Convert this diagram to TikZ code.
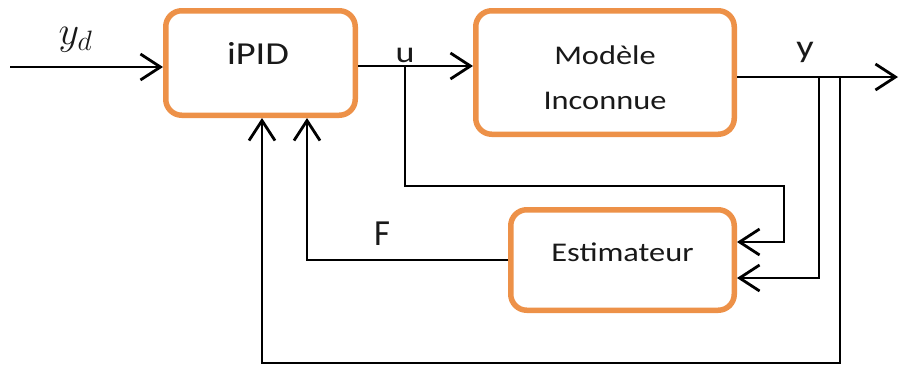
\documentclass[tikz,border=0pt]{standalone}
\usepackage{fix-cm}
\usepackage{fontspec}
\setmainfont{Carlito}[FakeStretch=1.2]
\usepackage{graphicx}
\usetikzlibrary{arrows.meta}
\definecolor{boxorange}{RGB}{237,145,72}

\begin{document}
\begin{tikzpicture}[x=1pt,y=-1pt,
  block/.style={draw=boxorange,line width=5.5pt,rounded corners=16pt,fill=white},
  wire/.style={line width=2.8pt},
  arr/.style={wire,-{Straight Barb[length=20pt,width=26pt]}},
  txt/.style={inner sep=0pt,text=black!90,font=\fontsize{27}{45}\selectfont}]
  \useasboundingbox (0,0) rectangle (901,365);
  % blocks
  \node[block,minimum width=189.5pt,minimum height=104.5pt] (ipid) at (260.5,63) {};
  \node[block,minimum width=258.5pt,minimum height=123.5pt] (modele) at (605,72.5) {};
  \node[block,minimum width=223.5pt,minimum height=100.5pt] (estim) at (622.5,260) {};
  \node[txt,font=\fontsize{32}{36}\selectfont] (ipidtxt) at (258,53) {iPID};
  \node[txt,align=center] (modtxt) at (605,78) {Modèle\\Inconnue};
  \node[txt] (esttxt) at (622.5,252) {Estimateur};
  % signal labels
  \node[txt,font=\fontsize{40}{44}\selectfont] (yd) at (75.5,40) {$y_d$};
  \node[txt,font=\fontsize{30}{36}\selectfont] (ulbl) at (405,55) {u};
  \node[txt,font=\fontsize{32}{36}\selectfont] (ylbl) at (805,52) {y};
  \node[txt,font=\fontsize{32}{36}\selectfont] (flbl) at (382,234) {\scalebox{0.9}[1.15]{F}};
  % branch and bend points
  \coordinate (in) at (10,67);
  \coordinate (u) at (405,66);
  \coordinate (ua) at (784,186);
  \coordinate (e1) at (784,242);
  \coordinate (yb1) at (819,77);
  \coordinate (e2) at (819,278);
  \coordinate (yb2) at (840,77);
  \coordinate (bot) at (840,363);
  \coordinate (fb) at (262,363);
  \coordinate (ff) at (307,260);
  \coordinate (out) at (898,77);
  % forward path
  \draw[arr] (in) -- (in -| ipid.west);
  \draw[arr] (ipid.east |- u) -- (u -| modele.west);
  \draw[arr] (modele.east |- out) -- (out);
  % feedback
  \draw[arr] (u) |- (ua) -- (e1) -- (e1 -| estim.east);
  \draw[arr] (yb1) -- (e2) -- (e2 -| estim.east);
  \draw[arr] (yb2) -- (bot) -- (fb) -- (fb |- ipid.south);
  \draw[arr] (estim.west |- ff) -- (ff) -- (ff |- ipid.south);
\end{tikzpicture}
\end{document}
